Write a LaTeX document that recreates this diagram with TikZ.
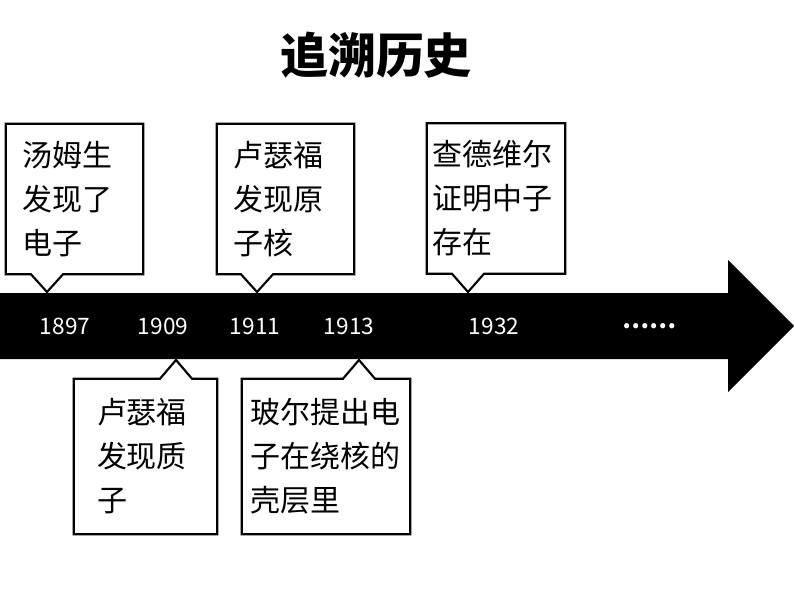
\documentclass[tikz,border=0pt]{standalone}
\usepackage{fontspec}
\setmainfont{Noto Sans CJK SC}
\tikzset{
    % callout boxes (outline drawn afterwards)
    note/.style={
        rectangle,
        align=left,
        font=\fontsize{22.5pt}{33pt}\selectfont},
    % outline of a callout
    frame/.style={
        draw, line width=1.6pt,
        line join=miter},
    % years on the arrow
    year/.style={
        text=white,
        font=\fontsize{17pt}{20pt}\selectfont}
}

\begin{document}
\begin{tikzpicture}[x=0.75pt, y=-0.75pt]
    \useasboundingbox (0,0) rectangle (794,596);
    % title
    \node[font=\fontsize{36pt}{40pt}\selectfont\bfseries] (title) at (376,55) {追溯历史};
    % the time arrow
    \fill[black] (0,293) -- (728,293) -- (728,260) -- (794,326)
        -- (728,392) -- (728,359) -- (0,359) -- cycle;
    % years
    \node[year] (y1897) at (65,326) {1897};
    \node[year] (y1909) at (163,326) {1909};
    \node[year] (y1911) at (255,326) {1911};
    \node[year] (y1913) at (349,326) {1913};
    \node[year] (y1932) at (494,326) {1932};
    \node[year, font=\fontsize{18pt}{20pt}\selectfont\bfseries] (more) at (649,326) {……};
    % where the pointers touch the arrow
    \coordinate (t1897) at (47,292);
    \coordinate (t1911) at (257,292);
    \coordinate (t1932) at (468,292);
    \coordinate (t1909) at (176,360);
    \coordinate (t1913) at (359,360);
    % boxes above
    \node[note, text width=78.75pt, inner xsep=12pt, minimum height=112.5pt] (thomson) at (74.5,199)
        {汤姆生\\发现了\\电子};
    \node[note, text width=78.75pt, inner xsep=12pt, minimum height=112.5pt] (nucleus) at (285.5,199)
        {卢瑟福\\发现原\\子核};
    \node[note, text width=96pt, inner xsep=3.75pt, minimum height=112.5pt] (chadwick) at (496,198.5)
        {查德维尔\\证明中子\\存在};
    % boxes below
    \node[note, text width=72.75pt, inner xsep=17.25pt, minimum height=116.25pt] (proton) at (145.5,456.5)
        {卢瑟福\\发现质\\子};
    \node[note, text width=114pt, inner xsep=6pt, minimum height=116.25pt] (bohr) at (326,456.5)
        {玻尔提出电\\子在绕核的\\壳层里};
    % outlines with their pointers
    \foreach \n/\t in {thomson/t1897, nucleus/t1911, chadwick/t1932}
        \draw[frame] (\n.south west) -- (\n.north west) -- (\n.north east) -- (\n.south east)
            -- ([xshift=12pt]\n.south -| \t) -- (\t) -- ([xshift=-12pt]\n.south -| \t) -- cycle;
    \foreach \n/\t in {proton/t1909, bohr/t1913}
        \draw[frame] (\n.north west) -- ([xshift=-12pt]\n.north -| \t) -- (\t)
            -- ([xshift=12pt]\n.north -| \t) -- (\n.north east) -- (\n.south east) -- (\n.south west) -- cycle;
\end{tikzpicture}
\end{document}
